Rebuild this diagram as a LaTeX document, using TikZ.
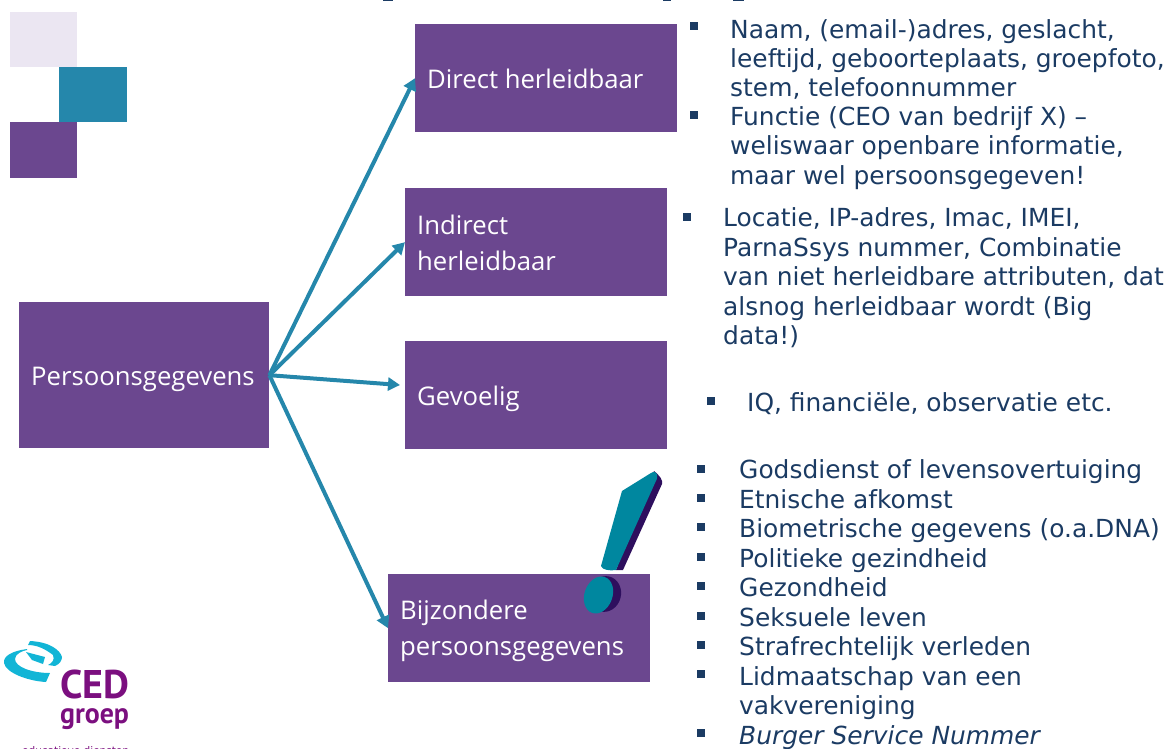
\documentclass[tikz,border=0pt]{standalone}
\usepackage{fontspec}
\setmainfont{DejaVu Sans}
\newfontfamily\boxfont{Open Sans}
\newfontfamily\logofont{PT Sans}
\definecolor{boxpurple}{HTML}{6B478F}
\definecolor{arrowteal}{HTML}{2587AB}
\definecolor{paletint}{HTML}{EBE6F2}
\definecolor{bodyblue}{HTML}{1B3B63}
\definecolor{markteal}{HTML}{00879F}
\definecolor{markdark}{HTML}{2E0F5E}
\definecolor{cedcyan}{HTML}{12B5D6}
\definecolor{cedpurple}{HTML}{7B0F7F}
\usetikzlibrary{arrows.meta}
\tikzset{
  pbox/.style={fill=boxpurple,draw=none,inner sep=0pt,minimum width=#1,anchor=north west},
  lbl/.style={font=\boxfont\fontsize{25.7}{36}\selectfont,text=white,anchor=west,align=left,inner sep=0pt},
  conn/.style={draw=arrowteal,line width=4pt,-{Triangle[length=12pt,width=13pt]}},
  body/.style={font=\fontsize{24.9}{#1}\selectfont,text=bodyblue,anchor=north west,align=left,inner sep=0pt},
  body/.default=29.5,
  bullet/.style={fill=bodyblue,draw=none,inner sep=0pt,minimum size=8pt},
  logotext/.style={text=cedpurple,anchor=base west,inner sep=0pt}
}
\begin{document}
\begin{tikzpicture}[x=1pt,y=-1pt]
\useasboundingbox (0,0) rectangle (1165,749);
% slivers of the cropped title at the top edge
\fill[bodyblue] (383,0) rectangle (393,1.2);
\fill[bodyblue] (663,0) rectangle (671,1.2);
\fill[bodyblue] (733,0) rectangle (744,1.2);
% deco squares
\fill[paletint] (10,12) rectangle (77,67);
\fill[arrowteal] (59,67) rectangle (127,122);
\fill[boxpurple] (10,122) rectangle (77,178);
% boxes
\node[pbox=250pt,minimum height=146pt] (p) at (19,302) {};
\node[pbox=262pt,minimum height=108pt] (d) at (415,24) {};
\node[pbox=262pt,minimum height=108pt] (i) at (405,188) {};
\node[pbox=262pt,minimum height=108pt] (g) at (405,341) {};
\node[pbox=262pt,minimum height=108pt] (b) at (388,574) {};
\node[lbl] at (31,379) {Persoonsgegevens};
\node[lbl] at (427,79) {Direct herleidbaar};
\node[lbl] at (417,243) {Indirect\\herleidbaar};
\node[lbl] at (417,399) {Gevoelig};
\node[lbl] at (400,631) {Bijzondere\\persoonsgegevens};
% connectors
\coordinate (gend) at (400,385);
\draw[conn] (p.east) -- (d.west);
\draw[conn] (p.east) -- (i.west);
\draw[conn] (p.east) -- (gend);
\draw[conn] (p.east) -- (b.west);
% exclamation mark
\fill[markdark] (616,570) -- (623,570) -- (662,484) .. controls (663,480) and (660,476) .. (654,471) -- cycle;
\fill[markteal] (622,491) -- (651,473) .. controls (654,471) and (656,472) .. (657,474) .. controls (658,477) and (657,479) .. (655,483) -- (616,570) .. controls (610,571) and (602,570) .. (601,566) -- cycle;
\fill[markdark,rotate around={-15:(605,594)}] (605,594) ellipse (16pt and 18pt);
\fill[markteal,rotate around={-20:(598.5,595)}] (598.5,595) ellipse (14pt and 19pt);
% bullet lists
\foreach \x/\y in {694/26,694/115,687/217,711/401,701/469,701/498,701/527,701/557,701/586,701/616,701/645,701/674,701/733}
  \node[bullet] at (\x,\y) {};
\node[body=29.2] at (730,19) {Naam, (email-)adres, geslacht,\\leeftijd, geboorteplaats, groepfoto,\\stem, telefoonnummer\\Functie (CEO van bedrijf X) --\\weliswaar openbare informatie,\\maar wel persoonsgegeven!};
\node[body] at (723,207.5) {Locatie, IP-adres, Imac, IMEI,\\ParnaSsys nummer, Combinatie\\van niet herleidbare attributen, dat\\alsnog herleidbaar wordt (Big\\data!)};
\node[body] at (747,392) {IQ, financiële, observatie etc.};
\node[body] at (739,459.5) {Godsdienst of levensovertuiging\\Etnische afkomst\\Biometrische gegevens (o.a.DNA)\\Politieke gezindheid\\Gezondheid\\Seksuele leven\\Strafrechtelijk verleden\\Lidmaatschap van een\\vakvereniging\\\textit{Burger Service Nummer}};
% logo
\fill[cedcyan] (27,649) .. controls (12,651) and (3,656) .. (4,663) .. controls (6,673) and (28,681) .. (46,682) -- (50,673) .. controls (32,673) and (15,667) .. (15,659) .. controls (15,654) and (22,651) .. (27,650) -- cycle;
\fill[cedcyan] (26,652) -- (45,657) -- (43,664) -- (32,660) -- cycle;
\fill[cedcyan] (30,641) -- (28,645) .. controls (36,645) and (44,648) .. (53,655) .. controls (55,660) and (52,663) .. (48,665) -- (55,666) .. controls (60,664) and (62,660) .. (62,657) .. controls (60,650) and (50,642) .. (30,641) -- cycle;
\node[logotext,font=\logofont\bfseries\fontsize{40}{40}\selectfont] (ced) at (60,698) {CED};
\node[logotext,font=\logofont\bfseries\fontsize{29}{29}\selectfont,xscale=.96] (gr) at (60,723) {groep};
\node[logotext,font=\fontsize{10.5}{12}\selectfont] (ed) at (22,754) {educatieve diensten};
\end{tikzpicture}
\end{document}
